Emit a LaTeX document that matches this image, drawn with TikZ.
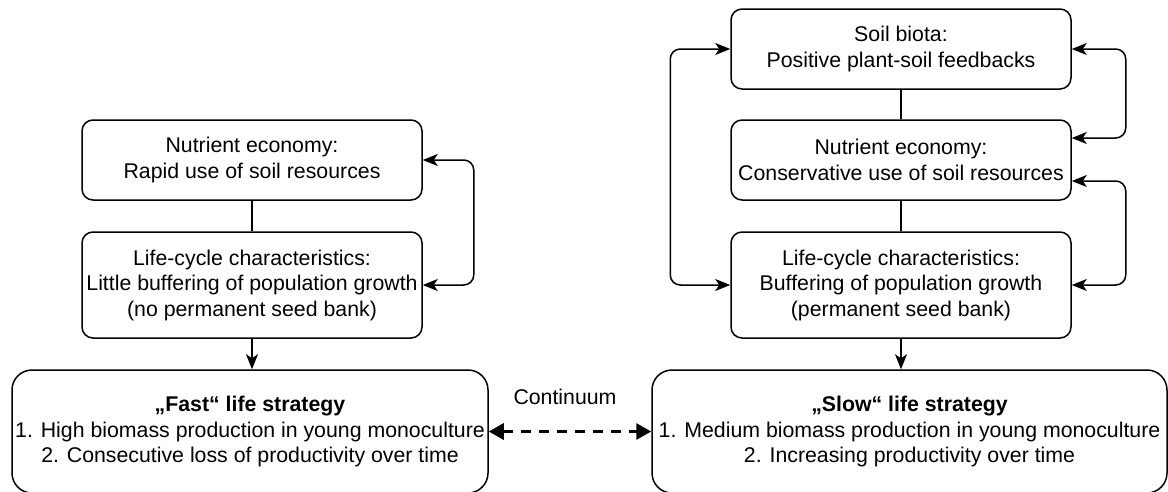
\documentclass[tikz,border=0pt]{standalone}
\usepackage{fontspec}
\setmainfont{Liberation Sans}
\usetikzlibrary{arrows.meta}

\begin{document}
\begin{tikzpicture}[x=1pt,y=-1pt,line width=1.5pt,
    font=\fontsize{21.3pt}{25.5pt}\selectfont,
    box/.style={draw,rounded corners=11pt,align=center,minimum width=340pt,inner sep=0pt},
    bigbox/.style={draw,rounded corners=20pt,align=center,minimum height=123pt,inner sep=0pt},
    arr/.style={-{Stealth[length=15pt,width=12pt,inset=4pt]}},
    twoway/.style={{Stealth[length=15pt,width=12pt,inset=4pt]}-{Stealth[length=15pt,width=12pt,inset=4pt]},rounded corners=10pt},
    dasharr/.style={{Triangle[length=15pt,width=16pt]}-{Triangle[length=15pt,width=16pt]},line width=3pt,dash pattern=on 10pt off 8pt}]
    \useasboundingbox (0,0) rectangle (1168,491);

    % fast side
    \node[box,minimum height=80pt] (nutL) at (252,160) {Nutrient economy:\\Rapid use of soil resources};
    \node[box,minimum height=106pt] (lifeL) at (252,285) {Life-cycle characteristics:\\Little buffering of population growth\\(no permanent seed bank)};
    \node[bigbox,minimum width=476pt] (fast) at (250,431.5) {\textbf{„Fast“ life strategy}\\1. High biomass production in young monoculture\\2. Consecutive loss of productivity over time};

    % slow side
    \node[box,minimum height=80pt] (soil) at (901,49) {Soil biota:\\Positive plant-soil feedbacks};
    \node[box,minimum height=80pt] (nutR) at (901,160) {Nutrient economy:\\Conservative use of soil resources};
    \node[box,minimum height=106pt] (lifeR) at (901,285) {Life-cycle characteristics:\\Buffering of population growth\\(permanent seed bank)};
    \node[bigbox,minimum width=515pt] (slow) at (909.5,431.5) {\textbf{„Slow“ life strategy}\\1. Medium biomass production in young monoculture\\2. Increasing productivity over time};

    \node (cont) at (565,397) {Continuum};

    \draw (nutL) -- (lifeL);
    \draw[arr] (lifeL.south) -- (lifeL.south |- fast.north);
    \draw (soil) -- (nutR);
    \draw (nutR) -- (lifeR);
    \draw[arr] (lifeR.south) -- (lifeR.south |- slow.north);
    \draw[dasharr] (fast.east) -- (slow.west);

    \draw[twoway] (nutL.east) -- ++(51,0) |- (lifeL.east);
    \draw[twoway] (soil.west) -- ++(-60,0) |- (lifeR.west);
    \draw[twoway] (soil.east) -- ++(54,0) |- ([yshift=22pt]nutR.east);
    \draw[twoway] ([yshift=-21pt]nutR.east) -- ++(54,0) |- (lifeR.east);

\end{tikzpicture}
\end{document}
